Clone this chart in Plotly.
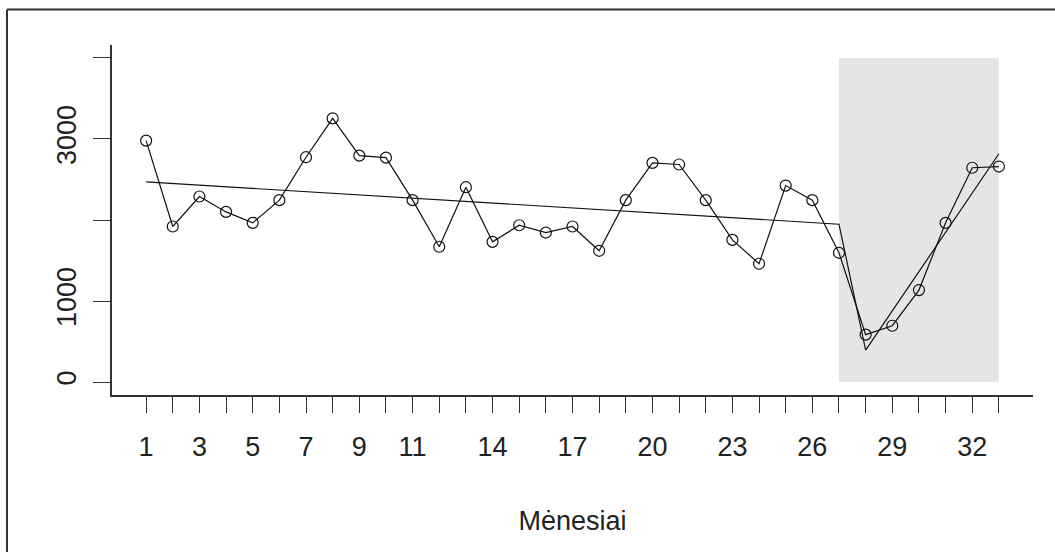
import plotly.graph_objects as go

# Data
months = list(range(1, 34))
values = [2980, 1920, 2290, 2100, 1965, 2245, 2775, 3255, 2795, 2770,
          2245, 1670, 2405, 1730, 1935, 1845, 1920, 1620, 2245, 2705,
          2685, 2245, 1755, 1460, 2425, 2245, 1595, 585, 695, 1135,
          1965, 2645, 2660]

# Segmented (interrupted) trend line
trend_x = [1, 27, 28, 33]
trend_y = [2470, 1948, 393, 2818]

# Shaded intervention period
shade_x = [27, 33]
shade_y = [0, 4000]

x_tickvals = list(range(1, 34))
x_ticklabels = ["1", "", "3", "", "5", "", "7", "", "9", "", "11", "", "", "14", "", "",
                "17", "", "", "20", "", "", "23", "", "", "26", "", "", "29", "", "", "32", ""]
y_tickvals = [0, 1000, 2000, 3000, 4000]
y_ticklabels = ["0", "1000", "", "3000", ""]

x_title = "Mėnesiai"

FONT = "Liberation Sans, Arial, sans-serif"
TXT = "#222222"
AX = "#333333"
FS = 27

fig = go.Figure()

fig.add_shape(type="rect", xref="x", yref="y",
              x0=shade_x[0], x1=shade_x[1], y0=shade_y[0], y1=shade_y[1],
              fillcolor="#e4e5e7", line=dict(width=0), layer="below")

fig.add_trace(go.Scatter(
    x=months, y=values, mode="lines+markers",
    line=dict(color="#111111", width=1.2),
    marker=dict(symbol="circle-open", size=11, color="#111111", line=dict(width=1.2)),
    showlegend=False, hoverinfo="x+y"))

fig.add_trace(go.Scatter(
    x=trend_x, y=trend_y, mode="lines",
    line=dict(color="#111111", width=1.2),
    showlegend=False, hoverinfo="x+y"))

# outer frame lines (top and left), as in the reference image
fig.add_shape(type="line", xref="paper", yref="paper",
              x0=-0.1140, x1=1.03, y0=1.1014, y1=1.1014,
              line=dict(color="#333333", width=2))
fig.add_shape(type="line", xref="paper", yref="paper",
              x0=-0.1140, x1=-0.1140, y0=1.1014, y1=-0.46,
              line=dict(color="#333333", width=2))

fig.update_layout(
    width=1055, height=552,
    margin=dict(l=112, r=22, t=45, b=157),
    paper_bgcolor="white", plot_bgcolor="white",
    font=dict(family=FONT, size=FS, color=TXT),
    xaxis=dict(
        range=[-0.28, 34.28], showgrid=False, zeroline=False,
        showline=True, linecolor=AX, linewidth=1.5,
        ticks="outside", ticklen=16, tickwidth=1.3, tickcolor=AX,
        tickvals=x_tickvals, ticktext=x_ticklabels, ticklabelstandoff=11,
        tickfont=dict(family=FONT, size=FS, color=TXT),
        title=dict(text=x_title, font=dict(family=FONT, size=FS, color=TXT), standoff=50),
    ),
    yaxis=dict(
        range=[-160, 4160], showgrid=False, zeroline=False,
        showline=True, linecolor=AX, linewidth=1.5,
        ticks="outside", ticklen=17, tickwidth=1.3, tickcolor=AX,
        tickvals=y_tickvals, ticktext=y_ticklabels, tickangle=-90,
        ticklabelstandoff=6,
        tickfont=dict(family=FONT, size=FS, color=TXT),
    ),
)

fig.write_html("out.html", config={"displayModeBar": False},
               post_script="document.body.style.margin='0';document.body.style.overflow='hidden';")
